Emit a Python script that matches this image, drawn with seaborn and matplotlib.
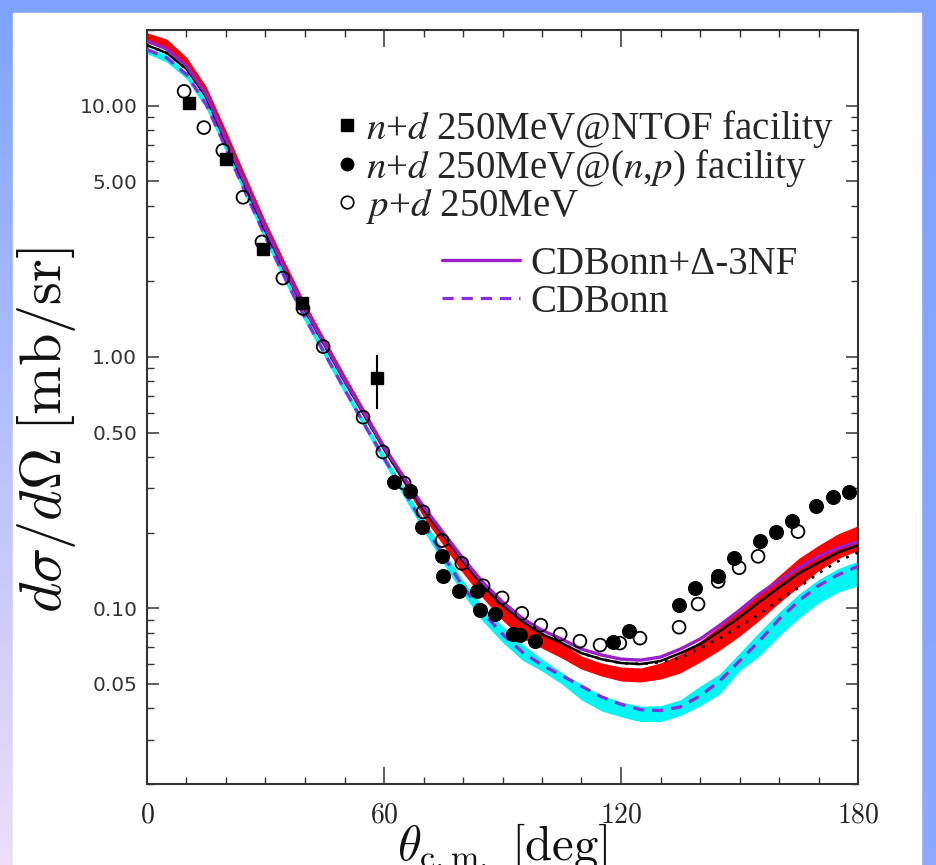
import numpy as np
import matplotlib
matplotlib.use('Agg')
import matplotlib.pyplot as plt
from matplotlib.ticker import FixedLocator, FixedFormatter, NullFormatter
from matplotlib.lines import Line2D
import seaborn as sns

# theory curves, values every 5 deg
angle = list(range(0, 181, 5))
red_hi = [19.5, 18.4, 15.6, 11.9, 7.96, 5.23, 3.47, 2.37, 1.64, 1.18, 0.852, 0.620, 0.450,
          0.339, 0.258, 0.200, 0.158, 0.127, 0.105, 0.0888, 0.0796, 0.0727, 0.0646, 0.0606,
          0.0584, 0.0579, 0.0606, 0.0657, 0.0740, 0.0849, 0.0982, 0.115, 0.135, 0.158,
          0.178, 0.198, 0.213]
red_lo = [17.8, 16.8, 14.4, 11.1, 7.40, 4.86, 3.23, 2.20, 1.54, 1.11, 0.800, 0.581, 0.422,
          0.313, 0.231, 0.178, 0.138, 0.110, 0.0896, 0.0761, 0.0694, 0.0634, 0.0573, 0.0538,
          0.0514, 0.0509, 0.0523, 0.0553, 0.0611, 0.0682, 0.0775, 0.0896, 0.105, 0.122,
          0.141, 0.158, 0.170]
cyan_hi = [17.1, 15.9, 13.6, 10.5, 7.01, 4.65, 3.11, 2.12, 1.49, 1.07, 0.771, 0.560, 0.411,
           0.304, 0.227, 0.170, 0.129, 0.102, 0.0849, 0.0720, 0.0628, 0.0555, 0.0498, 0.0452,
           0.0424, 0.0408, 0.0410, 0.0432, 0.0490, 0.0548, 0.0663, 0.0804, 0.0964, 0.114,
           0.130, 0.144, 0.154]
cyan_lo = [16.1, 14.9, 12.8, 9.73, 6.51, 4.32, 2.89, 1.97, 1.38, 0.995, 0.717, 0.521, 0.379,
           0.278, 0.204, 0.151, 0.114, 0.0888, 0.0733, 0.0622, 0.0563, 0.0500, 0.0432, 0.0391,
           0.0370, 0.0354, 0.0354, 0.0374, 0.0409, 0.0456, 0.0563, 0.0646, 0.0775, 0.0913,
           0.105, 0.116, 0.123]
cdb_3nf = [18.1, 16.8, 14.4, 11.1, 7.33, 4.86, 3.26, 2.22, 1.56, 1.13, 0.814, 0.597, 0.438,
           0.333, 0.254, 0.200, 0.158, 0.127, 0.106, 0.0913, 0.0818, 0.0754, 0.0688, 0.0652,
           0.0628, 0.0622, 0.0640, 0.0688, 0.0754, 0.0856, 0.0982, 0.114, 0.129, 0.145,
           0.161, 0.174, 0.184]
cdb = [16.7, 15.5, 13.3, 10.1, 6.75, 4.48, 3.00, 2.05, 1.43, 1.03, 0.744, 0.540, 0.396,
       0.293, 0.217, 0.162, 0.122, 0.0964, 0.0790, 0.0670, 0.0595, 0.0540, 0.0490, 0.0445,
       0.0415, 0.0395, 0.0392, 0.0405, 0.0448, 0.0514, 0.0617, 0.0740, 0.0904, 0.107,
       0.123, 0.136, 0.147]
black_solid = [17.4, 16.2, 14.0, 10.8, 7.14, 4.73, 3.17, 2.18, 1.53, 1.11, 0.800, 0.586, 0.430,
               0.324, 0.247, 0.195, 0.154, 0.123, 0.103, 0.0888, 0.0789, 0.0727, 0.0663, 0.0628,
               0.0606, 0.0600, 0.0617, 0.0663, 0.0720, 0.0811, 0.0921, 0.106, 0.121, 0.138,
               0.152, 0.167, 0.178]
black_dot = [17.4, 16.2, 14.0, 10.8, 7.14, 4.73, 3.17, 2.18, 1.53, 1.11, 0.800, 0.586, 0.430,
             0.324, 0.247, 0.195, 0.154, 0.123, 0.103, 0.0888, 0.0789, 0.0727, 0.0663, 0.0628,
             0.0606, 0.0600, 0.0611, 0.0634, 0.0694, 0.0761, 0.0849, 0.0947, 0.108, 0.121,
             0.138, 0.154, 0.167]

# data
ntof_theta = [10.6, 20.0, 29.4, 39.2, 58.2]
ntof_xs = [10.2, 6.11, 2.69, 1.64, 0.822]
ntof_err = [0.6, 0.25, 0.12, 0.08, 0.2]

np_theta = [62.5, 66.6, 69.6, 74.7, 74.9, 79.0, 83.5, 84.3, 88.1, 92.7, 94.4, 98.2, 118.0,
            122.0, 134.7, 138.7, 144.6, 148.6, 155.2, 159.2, 163.3, 169.4, 173.7, 177.7]
np_xs = [0.318, 0.293, 0.211, 0.162, 0.135, 0.117, 0.117, 0.0982, 0.0947, 0.0789, 0.0782,
         0.0740, 0.0733, 0.0811, 0.103, 0.121, 0.135, 0.158, 0.186, 0.202, 0.223, 0.256,
         0.278, 0.291]

pd_theta = [9.4, 14.4, 19.2, 24.3, 29.1, 34.4, 39.5, 44.6, 54.7, 59.7, 65.1, 69.9, 74.7, 79.7,
            85.1, 89.9, 94.9, 99.7, 104.6, 109.6, 114.7, 119.7, 124.8, 134.7, 139.5, 144.6,
            149.9, 154.7, 164.8]
pd_xs = [11.4, 8.18, 6.63, 4.32, 2.87, 2.06, 1.56, 1.10, 0.576, 0.419, 0.315, 0.242, 0.186,
         0.151, 0.123, 0.110, 0.0955, 0.0857, 0.0789, 0.0740, 0.0714, 0.0727, 0.0761, 0.0841,
         0.104, 0.128, 0.145, 0.161, 0.202]

y_major = [0.05, 0.1, 0.5, 1, 5, 10]
y_labels = ['0.05', '0.10', '0.50', '1.00', '5.00', '10.00']
x_major = [0, 60, 120, 180]

sns.set_style('ticks')
plt.rcParams['mathtext.fontset'] = 'cm'
plt.rcParams['font.family'] = ['DejaVu Sans']

W, H = 937, 865
fig = plt.figure(figsize=(W / 100, H / 100), dpi=100)

# blue frame with a soft gradient
bg = fig.add_axes([0, 0, 1, 1])
bg.set_axis_off()
top = np.array([0.49, 0.64, 1.0])
bot_left = np.array([0.93, 0.87, 0.97])
bot_right = np.array([0.55, 0.66, 1.0])
yy = np.linspace(0, 1, 200)[:, None, None]
xx = np.linspace(0, 1, 60)[None, :, None]
grad = top * (1 - yy) + (bot_left * (1 - xx) + bot_right * xx) * yy
bg.imshow(grad, aspect='auto', extent=[0, 1, 0, 1], origin='upper')
bg.add_patch(plt.Rectangle((13 / W, 0), (921 - 13) / W, 1 - 13 / H, color='white'))
bg.set_xlim(0, 1)
bg.set_ylim(0, 1)

ax = fig.add_axes([147 / W, 1 - 784 / H, (858 - 147) / W, (784 - 30) / H])
ax.set_facecolor('white')

ax.fill_between(angle, cyan_lo, cyan_hi, color='#00f5f5', lw=0, zorder=1)
ax.fill_between(angle, red_lo, red_hi, color='#ff0000', lw=0, zorder=2)

sns.lineplot(x=angle, y=cdb, ax=ax, color='#8a2be2', lw=2.3, linestyle=(0, (3.5, 2.5)),
             sort=False, estimator=None, zorder=3)
sns.lineplot(x=angle, y=black_dot, ax=ax, color='black', lw=2.0, linestyle=(0, (1, 2.6)),
             sort=False, estimator=None, zorder=3)
sns.lineplot(x=angle, y=black_solid, ax=ax, color='black', lw=1.8,
             sort=False, estimator=None, zorder=4)
sns.lineplot(x=angle, y=cdb_3nf, ax=ax, color='#9a1fc8', lw=2.4,
             sort=False, estimator=None, zorder=5)

ax.errorbar(ntof_theta, ntof_xs, yerr=ntof_err, fmt='s', color='black', ms=8.5, lw=1.5,
            capsize=0, zorder=6)
sns.scatterplot(x=np_theta, y=np_xs, ax=ax, marker='o', s=100, color='black',
                edgecolor='black', zorder=7)
sns.scatterplot(x=pd_theta, y=pd_xs, ax=ax, marker='o', s=85, color='black',
                facecolor='none', edgecolor='black', linewidth=1.3, zorder=8)

ax.set_yscale('log')
ax.set_xlim(0, 180)
ax.set_ylim(0.02, 20)

ax.yaxis.set_major_locator(FixedLocator(y_major))
ax.yaxis.set_major_formatter(FixedFormatter(y_labels))
y_minor = [m * d for d in (0.01, 0.1, 1, 10) for m in range(2, 10)]
ax.yaxis.set_minor_locator(FixedLocator([v for v in y_minor if v not in y_major and v <= 20]))
ax.yaxis.set_minor_formatter(NullFormatter())
ax.xaxis.set_major_locator(FixedLocator(x_major))
ax.xaxis.set_major_formatter(FixedFormatter(['$%d$' % v for v in x_major]))
ax.xaxis.set_minor_locator(FixedLocator(list(range(10, 180, 10))))

ax.tick_params(which='both', direction='in', top=True, right=True, color='#333333')
ax.tick_params(axis='x', which='major', length=12, width=1.1)
ax.tick_params(axis='y', which='major', length=8.5, width=1.1)
ax.tick_params(which='minor', length=5, width=1.0)
ax.tick_params(axis='y', labelsize=14.5, labelcolor='#333333', pad=7)
ax.tick_params(axis='x', labelsize=20, labelcolor='#222222', pad=12)
for s in ax.spines.values():
    s.set_linewidth(1.5)
    s.set_color('#333333')
    s.set_visible(True)

ax.set_ylabel(r'$d\sigma/d\Omega\ [\mathrm{mb/sr}]$', fontsize=42, color='#111111')
ax.yaxis.set_label_coords(-0.097, 0.469)
ax.set_xlabel(r'$\theta_{\rm c.m.}\ [\mathrm{deg}]$', fontsize=35, color='#111111')
ax.xaxis.set_label_coords(0.5, -0.05)

# legends
mk = [Line2D([], [], marker='s', ls='none', color='black', ms=9),
      Line2D([], [], marker='o', ls='none', color='black', ms=9),
      Line2D([], [], marker='o', ls='none', mfc='none', mec='black', mew=1.2, ms=9)]
mk_labels = [r'$n$+$d$ 250MeV@NTOF facility',
             r'$n$+$d$ 250MeV@($n$,$p$) facility',
             r'$p$+$d$ 250MeV']
leg1 = ax.legend(mk, mk_labels, loc='upper left', bbox_to_anchor=(337 / W, 1 - 108 / H),
                 bbox_transform=fig.transFigure, frameon=False, handlelength=0.5,
                 handletextpad=0.25, labelspacing=-0.08, borderpad=0, borderaxespad=0,
                 prop={'family': 'Liberation Serif', 'size': 28})
for t in leg1.get_texts():
    t.set_math_fontfamily('stix')
ax.add_artist(leg1)

ln = [Line2D([], [], color='#9a1fc8', lw=2.4),
      Line2D([], [], color='#8a2be2', lw=2.3, linestyle=(0, (3.5, 2.5)))]
leg2 = ax.legend(ln, ['CDBonn+Δ-3NF', 'CDBonn'], loc='upper left',
                 bbox_to_anchor=(442 / W, 1 - 246 / H), bbox_transform=fig.transFigure,
                 frameon=False, handlelength=2.0, handletextpad=0.27, labelspacing=0.02,
                 borderpad=0, borderaxespad=0,
                 prop={'family': 'Liberation Serif', 'size': 28})

fig.savefig('out.png', dpi=100)
